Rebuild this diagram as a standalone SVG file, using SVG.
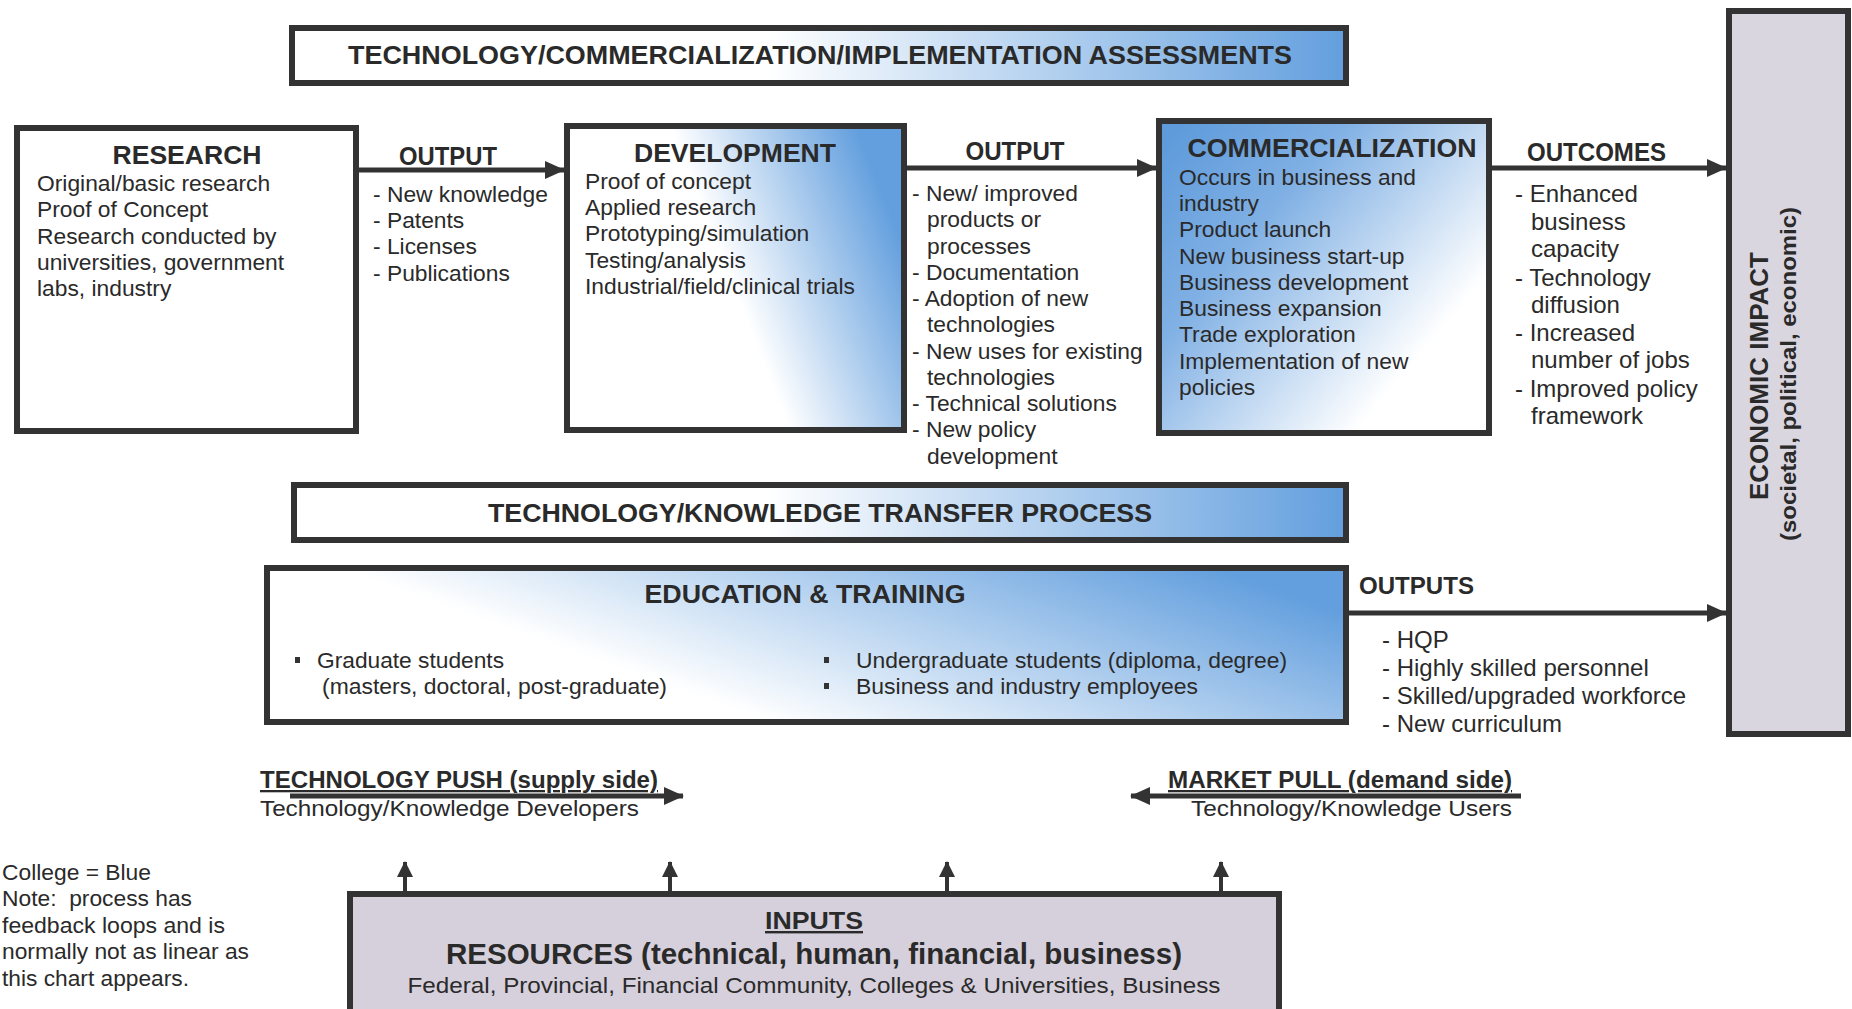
<svg xmlns="http://www.w3.org/2000/svg" width="1852" height="1009" viewBox="0 0 1852 1009">
<defs>
<linearGradient id="gH" x1="0" y1="0" x2="1" y2="0">
<stop offset="0" stop-color="#ffffff"/><stop offset="0.45" stop-color="#ffffff"/><stop offset="1" stop-color="#639fde"/>
</linearGradient>
<linearGradient id="gDev" x1="0.3" y1="0.65" x2="1" y2="0.4">
<stop offset="0" stop-color="#ffffff"/><stop offset="0.3" stop-color="#ffffff"/><stop offset="1" stop-color="#639fde"/>
</linearGradient>
<linearGradient id="gCom" x1="0" y1="0.1" x2="1" y2="0.9">
<stop offset="0" stop-color="#5f9bdb"/><stop offset="0.3" stop-color="#80b0e4"/><stop offset="0.8" stop-color="#ffffff"/><stop offset="1" stop-color="#ffffff"/>
</linearGradient>
<linearGradient id="gEdu" x1="0" y1="0.7" x2="1" y2="0.3">
<stop offset="0" stop-color="#ffffff"/><stop offset="0.3" stop-color="#ffffff"/><stop offset="1" stop-color="#639fde"/>
</linearGradient>
<marker id="ah" viewBox="0 0 20 18" refX="19" refY="9" markerWidth="20" markerHeight="18" markerUnits="userSpaceOnUse" orient="auto">
<path d="M0,0 L20,9 L0,18 z" fill="#333"/>
</marker>
<marker id="ahs" viewBox="0 0 16 18" refX="15" refY="8" markerWidth="16" markerHeight="18" markerUnits="userSpaceOnUse" orient="auto">
<path d="M0,0 L16,8 L0,16 z" fill="#333"/>
</marker>
</defs>
<style>
.box{stroke:#333;stroke-width:6;}
text{font-family:"Liberation Sans",Arial,Helvetica,sans-serif;fill:#2a2a2a;}
.h{font-weight:bold;font-size:25px;}
.b{font-size:22.8px;}
.c{font-size:24px;}
.n{font-size:22px;}
.conn{stroke:#333;stroke-width:5;fill:none;}
.up{stroke:#333;stroke-width:4;fill:none;}
</style>
<rect width="1852" height="1009" fill="#ffffff"/>

<g id="assessments">
<rect class="box" x="292" y="28" width="1054" height="55" fill="url(#gH)"/>
<text class="h" x="820" y="64" text-anchor="middle" textLength="944" lengthAdjust="spacingAndGlyphs">TECHNOLOGY/COMMERCIALIZATION/IMPLEMENTATION ASSESSMENTS</text>
</g>

<g id="research">
<rect class="box" x="17" y="128" width="339" height="303" fill="#ffffff"/>
<text class="h" x="187" y="164" text-anchor="middle" textLength="149" lengthAdjust="spacingAndGlyphs">RESEARCH</text>
<text class="b" x="37" y="191">Original/basic research</text>
<text class="b" x="37" y="217">Proof of Concept</text>
<text class="b" x="37" y="244">Research conducted by</text>
<text class="b" x="37" y="270">universities, government</text>
<text class="b" x="37" y="296">labs, industry</text>
</g>

<g id="output1">
<text class="h" x="448" y="165" text-anchor="middle" textLength="98" lengthAdjust="spacingAndGlyphs">OUTPUT</text>
<text class="b" x="373" y="202">- New knowledge</text>
<text class="b" x="373" y="228">- Patents</text>
<text class="b" x="373" y="254">- Licenses</text>
<text class="b" x="373" y="281">- Publications</text>
</g>

<g id="development">
<rect class="box" x="567" y="126" width="337" height="304" fill="url(#gDev)"/>
<text class="h" x="735" y="162" text-anchor="middle" textLength="202" lengthAdjust="spacingAndGlyphs">DEVELOPMENT</text>
<text class="b" x="585" y="189">Proof of concept</text>
<text class="b" x="585" y="215">Applied research</text>
<text class="b" x="585" y="241">Prototyping/simulation</text>
<text class="b" x="585" y="268">Testing/analysis</text>
<text class="b" x="585" y="294">Industrial/field/clinical trials</text>
</g>

<g id="output2">
<text class="h" x="1015" y="160" text-anchor="middle" textLength="99" lengthAdjust="spacingAndGlyphs">OUTPUT</text>
<text class="b" x="912" y="201">- New/ improved</text>
<text class="b" x="927" y="227">products or</text>
<text class="b" x="927" y="254">processes</text>
<text class="b" x="912" y="280">- Documentation</text>
<text class="b" x="912" y="306">- Adoption of new</text>
<text class="b" x="927" y="332">technologies</text>
<text class="b" x="912" y="359">- New uses for existing</text>
<text class="b" x="927" y="385">technologies</text>
<text class="b" x="912" y="411">- Technical solutions</text>
<text class="b" x="912" y="437">- New policy</text>
<text class="b" x="927" y="464">development</text>
</g>

<g id="commercialization">
<rect class="box" x="1159" y="121" width="330" height="312" fill="url(#gCom)"/>
<text class="h" x="1332" y="157" text-anchor="middle" textLength="289" lengthAdjust="spacingAndGlyphs">COMMERCIALIZATION</text>
<text class="b" x="1179" y="185">Occurs in business and</text>
<text class="b" x="1179" y="211">industry</text>
<text class="b" x="1179" y="237">Product launch</text>
<text class="b" x="1179" y="264">New business start-up</text>
<text class="b" x="1179" y="290">Business development</text>
<text class="b" x="1179" y="316">Business expansion</text>
<text class="b" x="1179" y="342">Trade exploration</text>
<text class="b" x="1179" y="369">Implementation of new</text>
<text class="b" x="1179" y="395">policies</text>
</g>

<g id="outcomes">
<text class="h" x="1527" y="161" textLength="139" lengthAdjust="spacingAndGlyphs">OUTCOMES</text>
<text class="c" x="1515" y="202">- Enhanced</text>
<text class="c" x="1531" y="230">business</text>
<text class="c" x="1531" y="257">capacity</text>
<text class="c" x="1515" y="286">- Technology</text>
<text class="c" x="1531" y="313">diffusion</text>
<text class="c" x="1515" y="341">- Increased</text>
<text class="c" x="1531" y="368">number of jobs</text>
<text class="c" x="1515" y="397">- Improved policy</text>
<text class="c" x="1531" y="424">framework</text>
</g>

<g id="economic-impact">
<rect class="box" x="1729" y="11" width="119" height="723" fill="#dad6e0"/>
<text class="h" transform="translate(1768,376) rotate(-90)" text-anchor="middle" style="font-size:26px" textLength="248" lengthAdjust="spacingAndGlyphs">ECONOMIC IMPACT</text>
<text transform="translate(1796,374) rotate(-90)" text-anchor="middle" style="font-size:22px;font-weight:bold" textLength="334" lengthAdjust="spacingAndGlyphs">(societal, political, economic)</text>
</g>

<g id="transfer">
<rect class="box" x="294" y="485" width="1052" height="55" fill="url(#gH)"/>
<text class="h" x="820" y="522" text-anchor="middle" textLength="664" lengthAdjust="spacingAndGlyphs">TECHNOLOGY/KNOWLEDGE TRANSFER PROCESS</text>
</g>

<g id="education">
<rect class="box" x="267" y="568" width="1079" height="154" fill="url(#gEdu)"/>
<text class="h" x="805" y="603" text-anchor="middle" textLength="321" lengthAdjust="spacingAndGlyphs">EDUCATION &amp; TRAINING</text>
<rect x="295" y="657" width="5" height="6" fill="#333"/>
<text class="b" x="317" y="668" textLength="187" lengthAdjust="spacingAndGlyphs">Graduate students</text>
<text class="b" x="322" y="694" textLength="345" lengthAdjust="spacingAndGlyphs">(masters, doctoral, post-graduate)</text>
<rect x="824" y="657" width="5" height="6" fill="#333"/>
<text class="b" x="856" y="668" textLength="431" lengthAdjust="spacingAndGlyphs">Undergraduate students (diploma, degree)</text>
<rect x="824" y="683" width="5" height="6" fill="#333"/>
<text class="b" x="856" y="694" textLength="342" lengthAdjust="spacingAndGlyphs">Business and industry employees</text>
</g>

<g id="outputs3">
<text class="h" x="1359" y="594" style="font-size:23px" textLength="115" lengthAdjust="spacingAndGlyphs">OUTPUTS</text>
<text class="c" x="1382" y="648">- HQP</text>
<text class="c" x="1382" y="676">- Highly skilled personnel</text>
<text class="c" x="1382" y="704">- Skilled/upgraded workforce</text>
<text class="c" x="1382" y="732">- New curriculum</text>
</g>

<g id="push">
<text class="h" x="260" y="788" style="font-size:23px;text-decoration:underline" textLength="398" lengthAdjust="spacingAndGlyphs">TECHNOLOGY PUSH (supply side)</text>
<text class="b" x="260" y="816" textLength="379" lengthAdjust="spacingAndGlyphs">Technology/Knowledge Developers</text>
</g>

<g id="pull">
<text class="h" x="1168" y="788" style="font-size:23px;text-decoration:underline" textLength="344" lengthAdjust="spacingAndGlyphs">MARKET PULL (demand side)</text>
<text class="b" x="1191" y="816" textLength="321" lengthAdjust="spacingAndGlyphs">Technology/Knowledge Users</text>
</g>

<g id="note">
<text class="n" x="2" y="880" textLength="149" lengthAdjust="spacingAndGlyphs">College = Blue</text>
<text class="n" x="2" y="906" textLength="190" lengthAdjust="spacingAndGlyphs" xml:space="preserve">Note:  process has</text>
<text class="n" x="2" y="933" textLength="223" lengthAdjust="spacingAndGlyphs">feedback loops and is</text>
<text class="n" x="2" y="959" textLength="247" lengthAdjust="spacingAndGlyphs">normally not as linear as</text>
<text class="n" x="2" y="986" textLength="187" lengthAdjust="spacingAndGlyphs">this chart appears.</text>
</g>

<g id="inputs">
<rect class="box" x="350" y="894" width="929" height="125" fill="#d6d0dc"/>
<text class="h" x="814" y="929" text-anchor="middle" style="font-size:24px;text-decoration:underline" textLength="98" lengthAdjust="spacingAndGlyphs">INPUTS</text>
<text class="h" x="814" y="964" text-anchor="middle" style="font-size:29px" textLength="736" lengthAdjust="spacingAndGlyphs">RESOURCES (technical, human, financial, business)</text>
<text class="b" x="814" y="993" text-anchor="middle" textLength="813" lengthAdjust="spacingAndGlyphs">Federal, Provincial, Financial Community, Colleges &amp; Universities, Business</text>
</g>

<g id="connectors">
<line class="conn" x1="359" y1="170" x2="564" y2="170" marker-end="url(#ah)"/>
<line class="conn" x1="907" y1="168" x2="1156" y2="168" marker-end="url(#ah)"/>
<line class="conn" x1="1492" y1="168" x2="1726" y2="168" marker-end="url(#ah)"/>
<line class="conn" x1="1349" y1="613" x2="1726" y2="613" marker-end="url(#ah)"/>
<line class="conn" x1="290" y1="796" x2="683" y2="796" marker-end="url(#ah)"/>
<line class="conn" x1="1521" y1="796" x2="1131" y2="796" marker-end="url(#ah)"/>
<line class="up" x1="405" y1="891" x2="405" y2="862" marker-end="url(#ahs)"/>
<line class="up" x1="670" y1="891" x2="670" y2="862" marker-end="url(#ahs)"/>
<line class="up" x1="947" y1="891" x2="947" y2="862" marker-end="url(#ahs)"/>
<line class="up" x1="1221" y1="891" x2="1221" y2="862" marker-end="url(#ahs)"/>
</g>
</svg>
